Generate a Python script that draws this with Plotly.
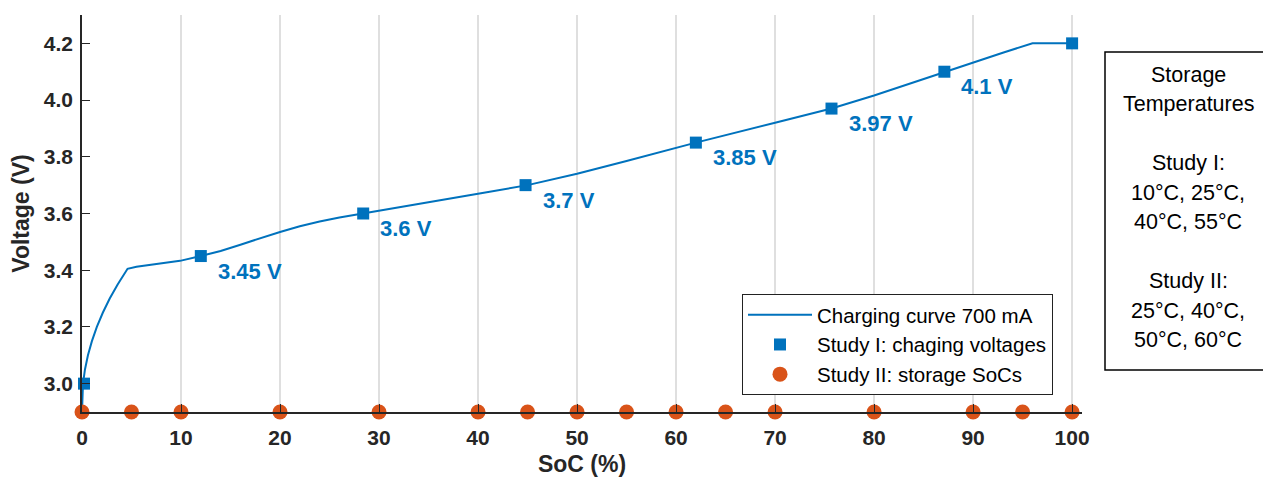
import plotly.graph_objects as go

# Charging curve at 700 mA (SoC in %, voltage in V)
curve_soc = [0.0, 0.1, 0.3, 0.6, 1.0, 1.5, 2.1, 2.8, 3.6, 4.6,
             5.5, 7.0, 9.9, 12.0, 14.0, 16.0, 18.0, 20.0, 22.0, 24.0, 26.0, 28.4,
             35.0, 40.0, 45.0, 50.0, 55.0, 62.0, 70.0, 75.7, 80.0, 87.1, 90.0,
             93.0, 96.0, 100.0]
curve_v = [2.90, 3.00, 3.05, 3.10, 3.15, 3.20, 3.25, 3.30, 3.35, 3.405,
           3.412, 3.419, 3.433, 3.45, 3.468, 3.49, 3.513, 3.535, 3.555, 3.572, 3.586, 3.60,
           3.64, 3.67, 3.70, 3.74, 3.785, 3.85, 3.92, 3.97, 4.016, 4.10, 4.133,
           4.167, 4.20, 4.20]

# Study I: charging voltages
study1_soc = [0.2, 12.0, 28.4, 44.8, 62.0, 75.7, 87.1, 100.0]
study1_v = [3.0, 3.45, 3.6, 3.7, 3.85, 3.97, 4.1, 4.2]
labeled = [3.45, 3.6, 3.7, 3.85, 3.97, 4.1]

# Study II: storage SoCs
study2_soc = [0, 5, 10, 20, 30, 40, 45, 50, 55, 60, 65, 70, 80, 90, 95, 100]
study2_v = [2.9] * len(study2_soc)

x_ticks = list(range(0, 101, 10))
y_ticks = [3.0, 3.2, 3.4, 3.6, 3.8, 4.0, 4.2]

side_lines = ["Storage", "Temperatures", "", "Study I:", "10°C, 25°C,", "40°C, 55°C", "",
              "Study II:", "25°C, 40°C,", "50°C, 60°C"]

BLUE = "#0072BD"
ORANGE = "#D95319"
AX = "#262626"
FONT = "Liberation Sans, Arial, sans-serif"

W, H = 1263, 484
ML, MR, MT, MB = 82, 181, 15, 72
plot_h = H - MT - MB


def py2paper(py):
    return (H - MB - py) / plot_h


def px2paper(px):
    return (px - ML) / (W - ML - MR)


fig = go.Figure()
fig.add_trace(go.Scatter(x=curve_soc, y=curve_v, mode="lines", name="Charging curve 700 mA",
                         line=dict(color=BLUE, width=2), cliponaxis=False))
fig.add_trace(go.Scatter(x=study1_soc, y=study1_v, mode="markers", name="Study I: chaging voltages",
                         marker=dict(symbol="square", size=12, color=BLUE), cliponaxis=False))
fig.add_trace(go.Scatter(x=study2_soc, y=study2_v, mode="markers", name="Study II: storage SoCs",
                         marker=dict(symbol="circle", size=15, color=ORANGE), cliponaxis=False))

annotations = []
for sx, sv in zip(study1_soc, study1_v):
    if sv in labeled:
        annotations.append(dict(x=sx, y=sv, xref="x", yref="y", text=f"<b>{sv:g} V</b>",
                                showarrow=False, xanchor="left", yanchor="middle",
                                xshift=15, yshift=-15,
                                font=dict(family=FONT, size=22, color=BLUE)))

line_y = [75, 104, None, 163, 193, 222, None, 281, 311, 340]
for txt, ly in zip(side_lines, line_y):
    if not txt:
        continue
    annotations.append(dict(x=px2paper(1188), y=py2paper(ly), xref="paper", yref="paper",
                            text=txt, showarrow=False, xanchor="center", yanchor="middle",
                            font=dict(family=FONT, size=21.5, color="black")))

fig.update_layout(
    width=W, height=H,
    margin=dict(l=ML, r=MR, t=MT, b=MB),
    paper_bgcolor="white", plot_bgcolor="white",
    font=dict(family=FONT, color=AX),
    annotations=annotations,
    shapes=[dict(type="rect", xref="paper", yref="paper",
                 x0=px2paper(1105), x1=px2paper(1275), y0=py2paper(370), y1=py2paper(52),
                 line=dict(color="black", width=1.5), fillcolor="white", layer="below")],
    legend=dict(x=px2paper(1053), y=py2paper(395), xanchor="right", yanchor="bottom",
                bgcolor="white", bordercolor="#222", borderwidth=1,
                font=dict(family=FONT, size=20.5, color="black"),
                tracegroupgap=0, itemsizing="trace", itemwidth=64),
    xaxis=dict(range=[0, 101], tickvals=x_ticks, ticks="inside", ticklen=8, tickcolor=AX,
               showline=True, linecolor=AX, linewidth=1.5, showgrid=True, gridcolor="#DFDFDF",
               gridwidth=1.5, zeroline=False, ticklabelstandoff=6,
               tickfont=dict(size=21, color=AX, weight="bold"),
               title=dict(text="<b>SoC (%)</b>", font=dict(size=23, color=AX), standoff=8)),
    yaxis=dict(range=[2.9, 4.3], tickvals=y_ticks, tickformat=".1f", ticks="inside", ticklen=8,
               tickcolor=AX, showline=True, linecolor=AX, linewidth=1.5, showgrid=False,
               zeroline=False, ticklabelstandoff=3,
               tickfont=dict(size=21, color=AX, weight="bold"),
               title=dict(text="<b>Voltage (V)</b>", font=dict(size=23, color=AX), standoff=8)),
)

fig.write_html("out.html")
